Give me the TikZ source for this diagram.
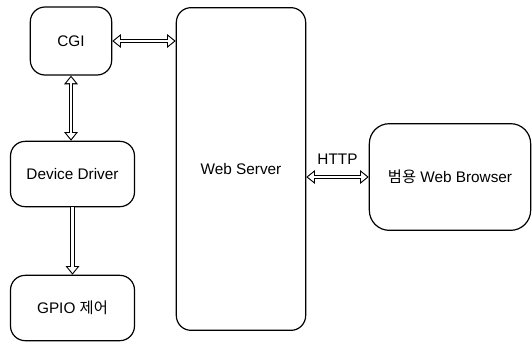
\documentclass[tikz,border=0pt]{standalone}
\usepackage{fontspec}
\setmainfont{Liberation Sans}
\newfontfamily\krfont{Noto Sans CJK KR}
\usetikzlibrary{arrows.meta}

\begin{document}
\begin{tikzpicture}[x=0.75pt,y=-0.75pt,
		block/.style={draw=black,line width=0.9pt,rounded corners=11pt,inner sep=0pt,font=\fontsize{11.5}{13}\selectfont},
		bighead/.tip={Triangle[length=6.5pt,width=10pt]},
		whitehead/.tip={Triangle[length=4.4pt,width=6.8pt]},
		twoway/.style={draw=black,line width=3.6pt,bighead-bighead,
			postaction={draw=white,line width=2pt,shorten <=1.31pt,shorten >=1.31pt,whitehead-whitehead}},
		oneway/.style={draw=black,line width=3.6pt,-bighead,
			postaction={draw=white,line width=2pt,shorten >=1.31pt,-whitehead}}]
				\useasboundingbox (0,0) rectangle (532,343);
				% left column
				\node [block,minimum width=61pt,minimum height=51pt] (cgi) at (71,41) {CGI};
				\node [block,minimum width=93pt,minimum height=49pt] (driver) at (72.5,174) {Device Driver};
				\node [block,minimum width=93pt,minimum height=49pt] (gpio) at (72.5,308) {GPIO {\krfont 제어}};
				% server and browser
				\node [block,minimum width=97pt,minimum height=242pt] (server) at (241,169) {Web Server};
				\node [block,rounded corners=15pt,minimum width=121pt,minimum height=80pt] (browser) at (450,177) {{\krfont 범용} Web Browser};
				% links
				\draw [twoway] (cgi.east) -- (cgi.east -| server.west);
				\draw [twoway] (cgi.south) -- (cgi.south |- driver.north);
				\draw [oneway] (driver.south) -- (gpio.north);
				\draw [twoway] (browser.west -| server.east) -- (browser.west)
					node [midway,above=4pt,font=\fontsize{11.5}{13}\selectfont] (http) {HTTP};
			\end{tikzpicture}
\end{document}
